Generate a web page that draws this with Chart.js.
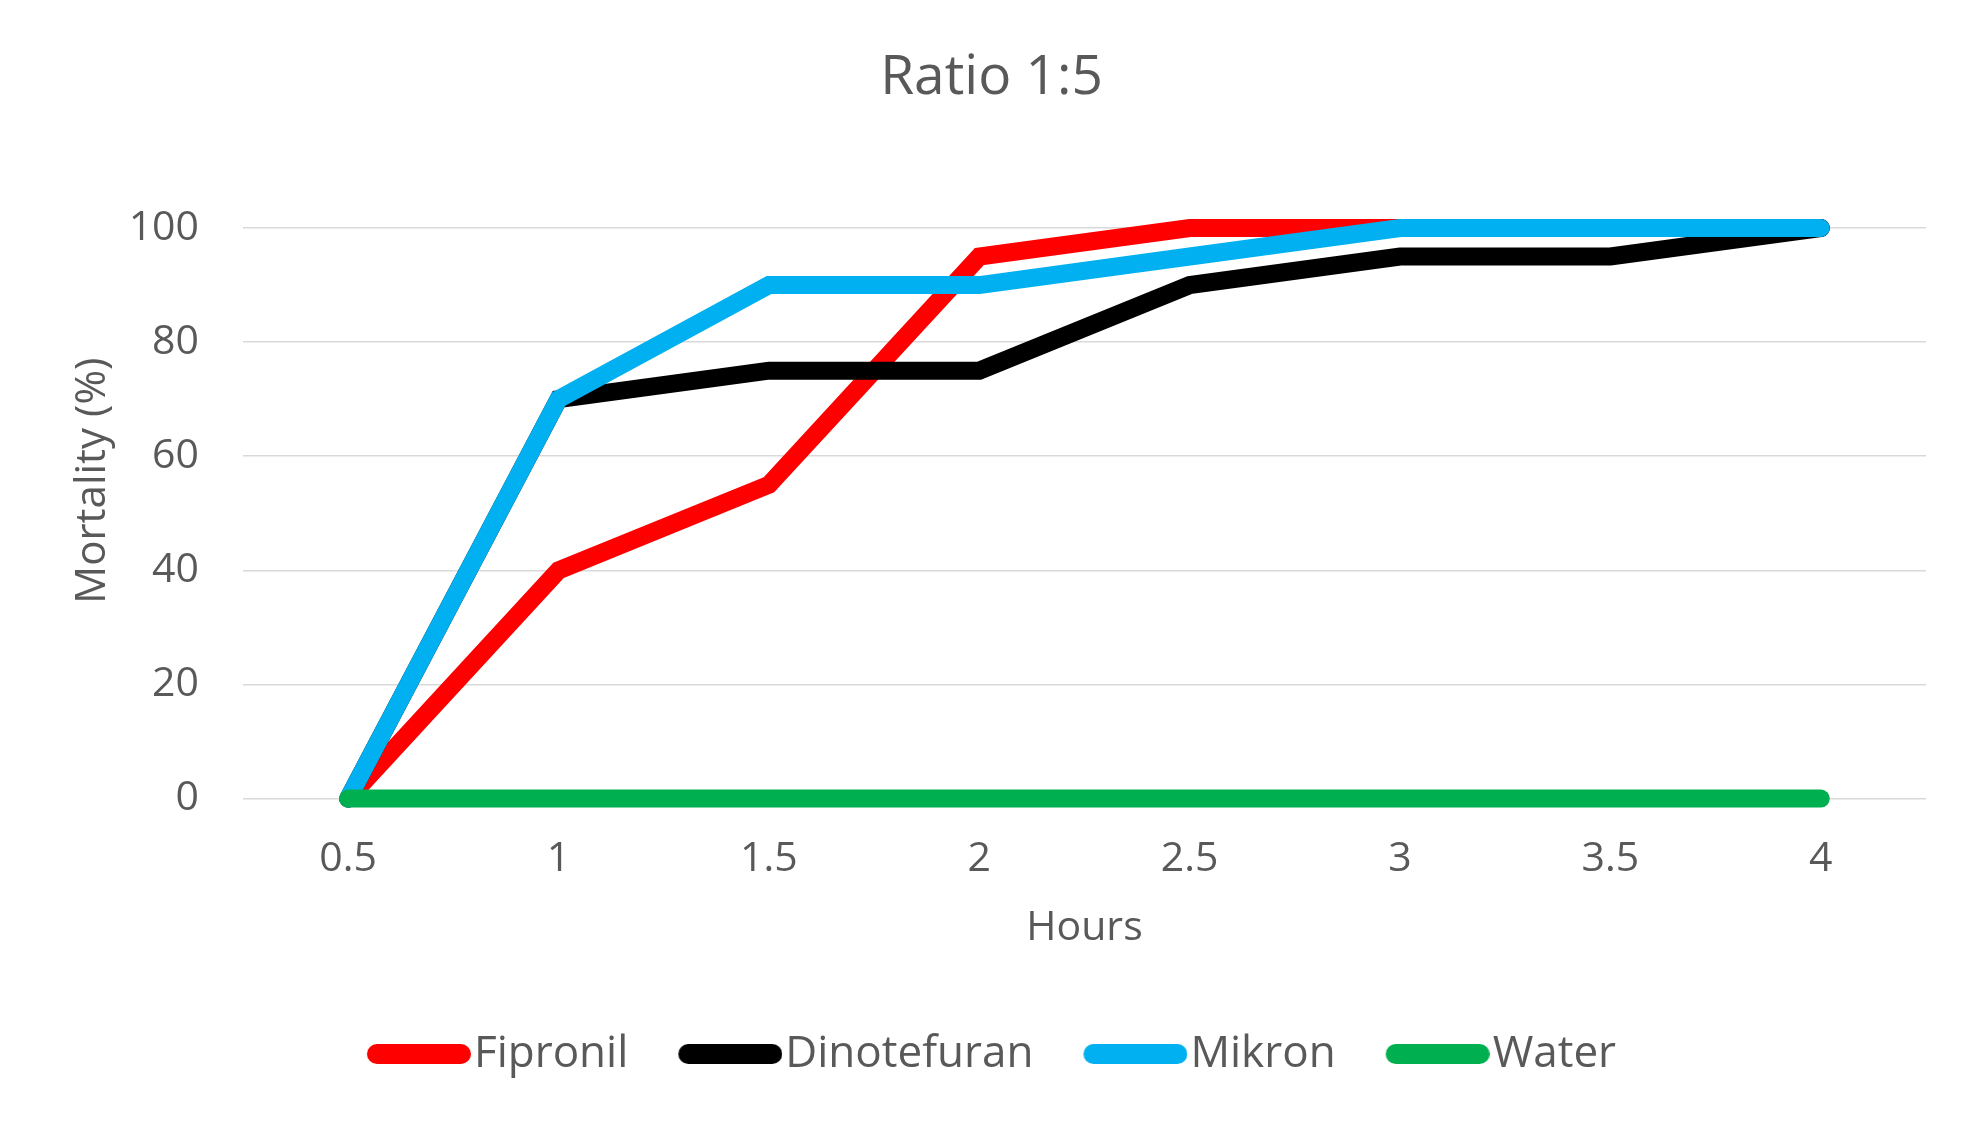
<!DOCTYPE html>
<html>
<head>
<meta charset="utf-8">
<script src="https://cdn.jsdelivr.net/npm/chart.js@4.4.1/dist/chart.umd.min.js"></script>
<style>
    html, body { margin: 0; padding: 0; background: #ffffff; }
    #wrap { width: 1977px; height: 1127px; position: relative; }
</style>
</head>
<body>
<div id="wrap"><canvas id="myChart"></canvas></div>
<script>
// Dados
const hours = ['0.5', '1', '1.5', '2', '2.5', '3', '3.5', '4'];
const fipronil = [0, 40, 55, 95, 100, 100, 100, 100];
const dinotefuran = [0, 70, 75, 75, 90, 95, 95, 100];
const mikron = [0, 70, 90, 90, 95, 100, 100, 100];
const water = [0, 0, 0, 0, 0, 0, 0, 0];
const yTicks = [0, 20, 40, 60, 80, 100];

const textColor = '#595959';
const gridColor = '#d9d9d9';

Chart.defaults.font.family = "'Open Sans', sans-serif";
Chart.defaults.color = textColor;

// Marcador da legenda: traço grosso com pontas arredondadas,
// deslocado para a direita para ficar colado ao texto
function legendMarker(color) {
    const c = document.createElement('canvas');
    c.width = 123;
    c.height = 20;
    const g = c.getContext('2d');
    g.strokeStyle = color;
    g.lineWidth = 20;
    g.lineCap = 'round';
    g.beginPath();
    g.moveTo(29, 10);
    g.lineTo(113, 10);
    g.stroke();
    return c;
}

function serie(label, data, color, order) {
    return {
        label: label,
        data: data,
        borderColor: color,
        backgroundColor: color,
        borderWidth: 18,
        borderCapStyle: 'round',
        borderJoinStyle: 'miter',
        pointRadius: 0,
        pointHoverRadius: 0,
        tension: 0,
        fill: false,
        clip: false,
        order: order // o último da legenda fica por cima, como no Excel
    };
}

const ctx = document.getElementById('myChart').getContext('2d');
new Chart(ctx, {
    type: 'line',
    data: {
        labels: hours,
        datasets: [
            serie('Fipronil', fipronil, '#ff0000', 3),
            serie('Dinotefuran', dinotefuran, '#000000', 2),
            serie('Mikron', mikron, '#00b0f0', 1),
            serie('Water', water, '#00b050', 0)
        ]
    },
    options: {
        responsive: true,
        maintainAspectRatio: false,
        animation: false,
        devicePixelRatio: 1,
        layout: {
            padding: { left: 57, right: 51, top: 0, bottom: 41 }
        },
        scales: {
            x: {
                type: 'category',
                offset: true,
                grid: { display: false, drawTicks: false },
                border: { display: false },
                ticks: {
                    padding: 36,
                    font: { size: 41 },
                    color: textColor
                },
                title: {
                    display: true,
                    text: 'Hours',
                    font: { size: 41 },
                    color: textColor,
                    padding: { top: -16, bottom: 29 }
                }
            },
            y: {
                min: 0,
                max: 100,
                afterBuildTicks: function(scale) {
                    scale.ticks = yTicks.map(v => ({ value: v }));
                },
                afterFit: function(scale) {
                    scale.width = 186;
                },
                grid: {
                    color: gridColor,
                    lineWidth: 1.5,
                    drawTicks: false
                },
                border: { display: false },
                ticks: {
                    padding: 44,
                    font: { size: 41 },
                    color: textColor
                },
                title: {
                    display: true,
                    text: '      Mortality (%)',
                    font: { size: 42 },
                    color: textColor,
                    padding: { top: 11, bottom: 0 }
                }
            }
        },
        plugins: {
            title: {
                display: true,
                text: 'Ratio 1:5',
                font: { size: 55, weight: 'normal' },
                color: textColor,
                padding: { top: 45, bottom: 117 }
            },
            legend: {
                position: 'bottom',
                labels: {
                    usePointStyle: true,
                    pointStyleWidth: 85,
                    padding: 50,
                    font: { size: 44 },
                    color: textColor,
                    sort: (a, b) => a.datasetIndex - b.datasetIndex,
                    generateLabels: function(chart) {
                        const items = Chart.defaults.plugins.legend.labels.generateLabels(chart);
                        items.forEach(item => {
                            const ds = chart.data.datasets[item.datasetIndex];
                            item.pointStyle = legendMarker(ds.borderColor);
                        });
                        return items;
                    }
                }
            },
            tooltip: { enabled: false }
        }
    }
});
</script>
</body>
</html>
